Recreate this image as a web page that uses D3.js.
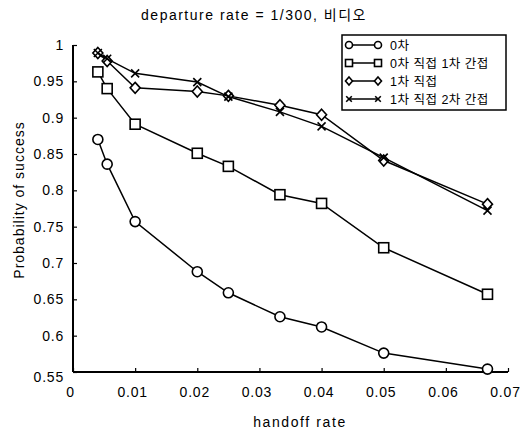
<!DOCTYPE html>
<html>
<head>
<meta charset="utf-8">
<script src="https://cdn.jsdelivr.net/npm/d3@7"></script>
<style>
  body { margin: 0; background: #fff; }
  text { font-family: "Liberation Sans", "Noto Sans CJK KR", sans-serif; fill: #000; }
</style>
</head>
<body>
<svg id="chart" width="527" height="430"></svg>
<script>
// handoff rate
const handoff = [0.004, 0.0055, 0.01, 0.02, 0.025, 0.0333, 0.04, 0.05, 0.0667];

// series values
const s0 = [0.870, 0.836, 0.757, 0.688, 0.659, 0.626, 0.612, 0.576, 0.554];
const s01 = [0.963, 0.940, 0.891, 0.851, 0.833, 0.794, 0.782, 0.721, 0.657];
const s1 = [0.989, 0.978, 0.941, 0.936, 0.930, 0.917, 0.904, 0.841, 0.781];
const s12 = [0.989, 0.981, 0.961, 0.949, 0.929, 0.908, 0.888, 0.845, 0.772];

const seriesNames = ["0차", "0차 직접 1차 간접", "1차 직접", "1차 직접 2차 간접"];
const seriesMarks = ["circle", "square", "diamond", "cross"];

const xTicks = [0, 0.01, 0.02, 0.03, 0.04, 0.05, 0.06, 0.07];
const yTicks = [0.55, 0.6, 0.65, 0.7, 0.75, 0.8, 0.85, 0.9, 0.95, 1];

const svg = d3.select("#chart");

let scX = d3.scaleLinear().domain([0, 0.07]).range([73, 508]);
let scY = d3.scaleLinear().domain([0.55, 1]).range([372, 45]);

// axes, ticks point inward
let xAxis = d3.axisBottom(scX).tickValues(xTicks).tickSize(-4).tickPadding(15)
    .tickFormat(d => d === 0 ? "0" : d3.format(".2f")(d));
let yAxis = d3.axisLeft(scY).tickValues(yTicks).tickSize(-4).tickPadding(9)
    .tickFormat(d => d === 1 ? "1" : d3.format("")(+d.toFixed(2)));

let gx = svg.append("g").attr("transform", "translate(0,372)").call(xAxis);
let gy = svg.append("g").attr("transform", "translate(73,0)").call(yAxis);
[gx, gy].forEach(g => {
    g.select(".domain").attr("stroke", "#000").attr("stroke-width", 2).attr("d",
        g === gx ? "M73,0H508" : "M0,45V372");
    g.selectAll(".tick line").attr("stroke", "#000").attr("stroke-width", 1.2);
    g.selectAll(".tick text").attr("font-size", 14).attr("letter-spacing", 0.8)
        .attr("font-family", "Liberation Sans, sans-serif");
});
gx.selectAll(".tick text").attr("dy", "0.71em").attr("x", -3);
gy.selectAll(".tick text").filter(d => d === 0.55).attr("dy", "0.7em");

// title and labels
svg.append("text").attr("x", 254).attr("y", 20).attr("text-anchor", "middle")
    .attr("font-size", 14).attr("letter-spacing", 1.5)
    .text("departure rate = 1/300, 비디오");
svg.append("text").attr("x", 300).attr("y", 427).attr("text-anchor", "middle")
    .attr("font-size", 14).attr("letter-spacing", 1.6).text("handoff rate");
svg.append("text").attr("transform", "translate(24,200) rotate(-90)")
    .attr("text-anchor", "middle").attr("font-size", 14).attr("letter-spacing", 1)
    .text("Probability of success");

// markers
function drawMark(g, type, x, y, r) {
    if (type === "circle") {
        g.append("circle").attr("cx", x).attr("cy", y).attr("r", r)
            .attr("fill", "#fff").attr("stroke", "#000").attr("stroke-width", 1.6);
    } else if (type === "square") {
        g.append("rect").attr("x", x - r).attr("y", y - r).attr("width", 2 * r).attr("height", 2 * r)
            .attr("fill", "#fff").attr("stroke", "#000").attr("stroke-width", 1.6);
    } else if (type === "diamond") {
        g.append("path").attr("d", `M${x},${y - r - 0.5}L${x + r},${y}L${x},${y + r + 0.5}L${x - r},${y}Z`)
            .attr("fill", "#fff").attr("stroke", "#000").attr("stroke-width", 1.6);
    } else {
        let c = r * 0.8;
        g.append("path").attr("d", `M${x - c},${y - c}L${x + c},${y + c}M${x - c},${y + c}L${x + c},${y - c}`)
            .attr("fill", "none").attr("stroke", "#000").attr("stroke-width", 1.6);
    }
}

let allSeries = [s0, s01, s1, s12];
let lineMaker = d3.line().x((d, i) => scX(handoff[i])).y(d => scY(d));

allSeries.forEach((vals, k) => {
    let g = svg.append("g").attr("id", "ds" + k);
    g.append("path").attr("d", lineMaker(vals))
        .attr("fill", "none").attr("stroke", "#000").attr("stroke-width", 1.5);
    vals.forEach((v, i) => drawMark(g, seriesMarks[k], scX(handoff[i]), scY(v), 5));
});

// legend
let lg = svg.append("g");
lg.append("rect").attr("x", 342).attr("y", 35).attr("width", 164).attr("height", 75)
    .attr("fill", "#fff").attr("stroke", "#000").attr("stroke-width", 1.5);
seriesNames.forEach((name, k) => {
    let y = 45 + k * 18;
    lg.append("line").attr("x1", 348).attr("x2", 378).attr("y1", y).attr("y2", y)
        .attr("stroke", "#000").attr("stroke-width", 1.5);
    drawMark(lg, seriesMarks[k], 349, y, 3.5);
    drawMark(lg, seriesMarks[k], 378, y, 3.5);
    lg.append("text").attr("x", 390).attr("y", y + 4.5).attr("font-size", 12.5)
        .attr("letter-spacing", 0.5).text(name);
});
</script>
</body>
</html>
